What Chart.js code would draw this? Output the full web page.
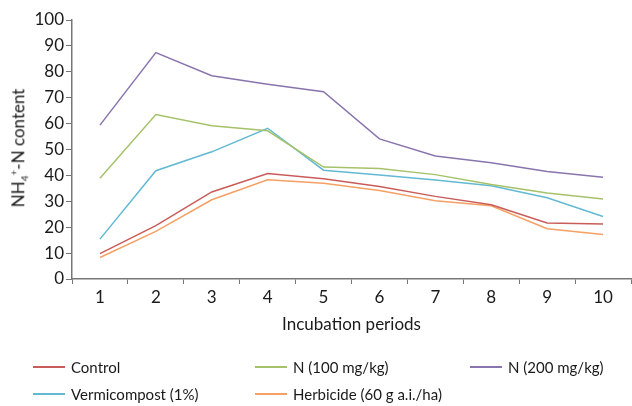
<!DOCTYPE html>
<html>
<head>
<meta charset="utf-8">
<script src="https://cdn.jsdelivr.net/npm/chart.js@4/dist/chart.umd.min.js"></script>
<style>
  html, body { margin: 0; padding: 0; background: #fff; }
  #wrap { position: relative; width: 632px; height: 406px; font-family: Lato, "Open Sans", sans-serif; color: #1a1a1a; }
  canvas { position: absolute; left: 0; top: 0; }
  #ytitle { position: absolute; left: 19px; top: 148px; transform: translate(-50%, -50%) rotate(-90deg); white-space: nowrap; font-size: 17px; }
  #ytitle sub, #ytitle sup { font-size: 10px; }
  .leg { position: absolute; display: flex; align-items: center; font-size: 15px; white-space: nowrap; transform: translateY(-50%); }
  .leg span.ln { display: inline-block; width: 32px; height: 0; border-top: 2px solid; margin-right: 6px; }
</style>
</head>
<body>
<div id="wrap">
  <canvas id="c" width="632" height="406"></canvas>
  <div id="ytitle">NH<sub>4</sub><sup>+</sup>-N content</div>
</div>
<script>
const categories = ['1','2','3','4','5','6','7','8','9','10'];
const seriesNames = ['Control','N (100 mg/kg)','N (200 mg/kg)','Vermicompost (1%)','Herbicide (60 g a.i./ha)'];
const control     = [9.8, 20.6, 33.6, 40.7, 38.7, 35.7, 31.9, 28.7, 21.6, 21.2];
const n100        = [38.9, 63.5, 59.2, 57.2, 43.2, 42.7, 40.3, 36.5, 33.2, 30.9];
const n200        = [59.4, 87.4, 78.5, 75.2, 72.3, 54.1, 47.5, 44.9, 41.5, 39.3];
const vermicompost= [15.4, 41.8, 49.1, 58.2, 42.0, 40.2, 38.2, 36.0, 31.4, 24.1];
const herbicide   = [8.3, 18.4, 30.6, 38.3, 37.0, 34.2, 30.2, 28.3, 19.4, 17.2];
const xTitle = 'Incubation periods';

const colors = ['#c95c59', '#a5c26a', '#8a74ad', '#63b9d3', '#f5a064'];
const values = [control, n100, n200, vermicompost, herbicide];

const datasets = values.map((v, i) => ({
  label: seriesNames[i], data: v, borderColor: colors[i], backgroundColor: colors[i],
  borderWidth: 1.5, pointRadius: 0, tension: 0, fill: false
}));

const FONT = 'Lato, "Open Sans", sans-serif';
new Chart(document.getElementById('c'), {
  type: 'line',
  data: { labels: categories, datasets },
  options: {
    responsive: false, animation: false,
    layout: { padding: { top: 20, right: 1, bottom: 67, left: 0 } },
    plugins: { legend: { display: false }, tooltip: { enabled: false } },
    scales: {
      x: {
        offset: true,
        grid: { display: true, drawOnChartArea: false, drawTicks: true, tickLength: 5, color: '#777', offset: true },
        border: { display: true, color: '#777', width: 1.5 },
        ticks: { color: '#1a1a1a', font: { family: FONT, size: 17 }, padding: 3, maxRotation: 0 },
        title: { display: true, text: xTitle, color: '#1a1a1a', font: { family: FONT, size: 17 }, padding: { top: 5 } },
        afterFit: s => { s.height = 60; }
      },
      y: {
        min: 0, max: 100,
        grid: { display: true, drawOnChartArea: false, drawTicks: true, tickLength: 6, color: '#777' },
        border: { display: true, color: '#777', width: 1.5 },
        ticks: { stepSize: 10, color: '#1a1a1a', font: { family: FONT, size: 17 }, padding: 2 },
        afterFit: s => { s.width = 72; }
      }
    }
  }
});

// legend
const legPos = [[33,367],[255,367],[470,367],[33,394],[255,394]];
const wrap = document.getElementById('wrap');
datasets.forEach((d, i) => {
  const el = document.createElement('div');
  el.className = 'leg';
  el.style.left = legPos[i][0] + 'px';
  el.style.top = legPos[i][1] + 'px';
  const ln = document.createElement('span');
  ln.className = 'ln';
  ln.style.borderTopColor = d.borderColor;
  el.appendChild(ln);
  el.appendChild(document.createTextNode(d.label));
  wrap.appendChild(el);
});
</script>
</body>
</html>
